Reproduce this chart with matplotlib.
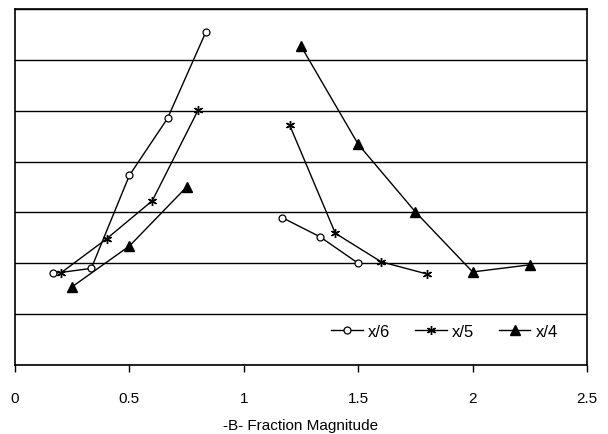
import numpy as np
import matplotlib
matplotlib.use("Agg")
import matplotlib.pyplot as plt

plt.rcParams['font.family'] = ['Liberation Sans', 'DejaVu Sans']

# x/6 series (gap between the two branches)
x6 = [1/6, 2/6, 3/6, 4/6, 5/6, np.nan, 7/6, 8/6, 9/6]
y6 = [1.80, 1.90, 3.73, 4.85, 6.54, np.nan, 2.90, 2.52, 2.00]

# x/5 series
x5 = [0.2, 0.4, 0.6, 0.8, np.nan, 1.2, 1.4, 1.6, 1.8]
y5 = [1.81, 2.48, 3.23, 5.01, np.nan, 4.72, 2.59, 2.03, 1.79]

# x/4 series
x4 = [0.25, 0.5, 0.75, np.nan, 1.25, 1.5, 1.75, 2.0, 2.25]
y4 = [1.54, 2.34, 3.50, np.nan, 6.27, 4.34, 3.01, 1.83, 1.97]

xticks = [0, 0.5, 1, 1.5, 2, 2.5]
xticklabels = ['0', '0.5', '1', '1.5', '2', '2.5']

fig = plt.figure(figsize=(6.08, 4.35), dpi=100)
ax = fig.add_axes([0.0247, 0.1586, 0.9408, 0.8184])

ax.plot(x6, y6, color='black', lw=1, marker='o', ms=5, mfc='white', mec='black', mew=0.9, label='x/6')
ax.plot(x5, y5, color='black', lw=1, marker=(6, 2, 0), ms=6.5, mec='black', mew=1, label='x/5')
ax.plot(x4, y4, color='black', lw=1, marker='^', ms=6.5, mfc='black', mec='black', label='x/4')

ax.set_xlim(0, 2.5)
ax.set_ylim(0, 7)
ax.set_xticks(xticks)
ax.set_xticklabels(xticklabels, fontsize=11)
ax.set_yticks(range(0, 8))
ax.tick_params(axis='y', left=False, labelleft=False)
ax.tick_params(axis='x', direction='out', length=5, width=1, pad=14)
ax.yaxis.grid(True, color='black', lw=1)
ax.set_axisbelow(True)
for s in ax.spines.values():
    s.set_linewidth(1.2)
    s.set_color('black')

ax.set_xlabel('-B- Fraction Magnitude', fontsize=11, labelpad=9)

ax.legend(loc='lower right', bbox_to_anchor=(0.975, 0.03), ncol=3, frameon=False,
          fontsize=12, handlelength=1.9, handletextpad=0.3, columnspacing=1.5)

fig.savefig('out.png', dpi=100)
